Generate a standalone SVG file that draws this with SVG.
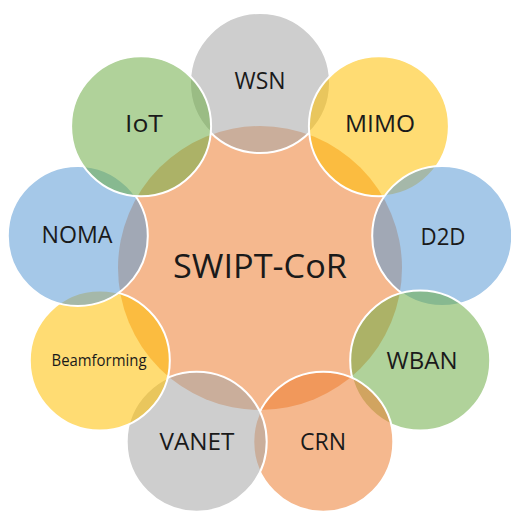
<svg xmlns="http://www.w3.org/2000/svg" width="511" height="513" viewBox="0 0 511 513">
  <style>
    .c { fill-opacity: 0.55; stroke: #ffffff; stroke-width: 2; }
    .gray { fill: #A5A5A5; }
    .yellow { fill: #FFC000; }
    .blue { fill: #5B9BD5; }
    .green { fill: #70AD47; }
    .orange { fill: #ED7D31; }
    .lbl { font-family: "Open Sans", "Liberation Sans", sans-serif; font-size: 23px; fill: #1a1a1a; text-anchor: middle; }
  </style>
  <rect x="0" y="0" width="511" height="513" fill="#ffffff"/>
  <g id="center">
    <circle cx="260" cy="268" r="142" fill="#ED7D31" fill-opacity="0.55"/>
  </g>
  <g id="wsn">
    <circle class="c gray" cx="260" cy="83" r="70"/>
    <text class="lbl" x="260" y="89" textLength="51" lengthAdjust="spacingAndGlyphs">WSN</text>
  </g>
  <g id="mimo">
    <circle class="c yellow" cx="378.9" cy="126.3" r="70"/>
    <text class="lbl" x="380" y="132" textLength="70" lengthAdjust="spacingAndGlyphs">MIMO</text>
  </g>
  <g id="d2d">
    <circle class="c blue" cx="442.2" cy="235.9" r="70"/>
    <text class="lbl" x="443" y="245" textLength="45" lengthAdjust="spacingAndGlyphs">D2D</text>
  </g>
  <g id="wban">
    <circle class="c green" cx="420.2" cy="360.5" r="70"/>
    <text class="lbl" x="422" y="369" textLength="71" lengthAdjust="spacingAndGlyphs">WBAN</text>
  </g>
  <g id="crn">
    <circle class="c orange" cx="323.3" cy="441.8" r="70"/>
    <text class="lbl" x="323" y="450" textLength="46" lengthAdjust="spacingAndGlyphs">CRN</text>
  </g>
  <g id="vanet">
    <circle class="c gray" cx="196.7" cy="441.8" r="70"/>
    <text class="lbl" x="197" y="450" textLength="75" lengthAdjust="spacingAndGlyphs">VANET</text>
  </g>
  <g id="beamforming">
    <circle class="c yellow" cx="99.8" cy="360.5" r="70"/>
    <text class="lbl" x="99" y="366" style="font-size:15.5px" textLength="95" lengthAdjust="spacingAndGlyphs">Beamforming</text>
  </g>
  <g id="noma">
    <circle class="c blue" cx="77.8" cy="235.9" r="70"/>
    <text class="lbl" x="77" y="243" textLength="71" lengthAdjust="spacingAndGlyphs">NOMA</text>
  </g>
  <g id="iot">
    <circle class="c green" cx="141.1" cy="126.3" r="70"/>
    <text class="lbl" x="144" y="132" textLength="38" lengthAdjust="spacingAndGlyphs">IoT</text>
  </g>
  <g id="center-label">
    <text class="lbl" x="260" y="278" style="font-size:32px" textLength="174" lengthAdjust="spacingAndGlyphs">SWIPT-CoR</text>
  </g>
</svg>
